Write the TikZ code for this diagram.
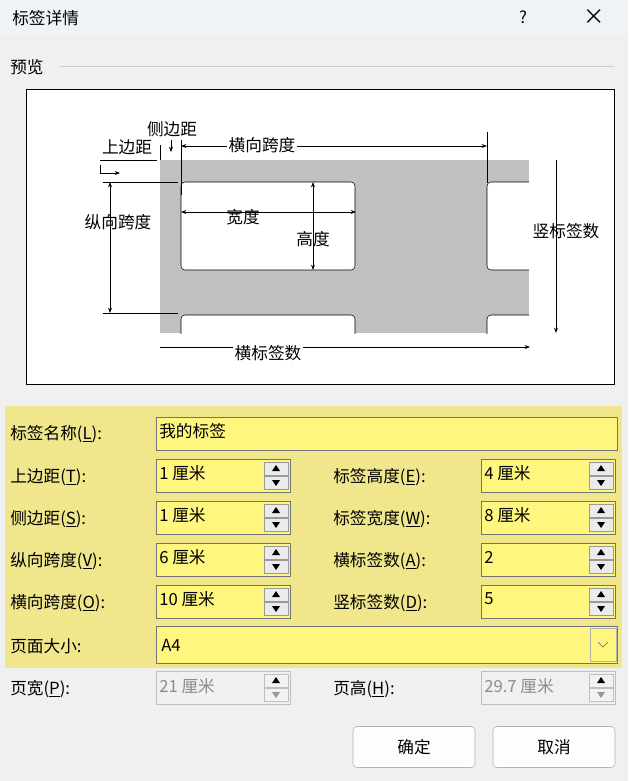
\documentclass[tikz,border=0pt]{standalone}
\usepackage{fontspec}
\setmainfont{Noto Sans CJK SC}
\usetikzlibrary{positioning,arrows.meta}
\definecolor{winbg}{HTML}{F0F0F0}
\definecolor{titlebg}{HTML}{EEF3F6}
\definecolor{panel}{HTML}{F0E68C}
\definecolor{field}{HTML}{FFF680}
\definecolor{sheetgray}{HTML}{C0C0C0}
\definecolor{btn}{HTML}{FDFDFD}
\newcommand{\ul}[1]{\underline{#1}}
\begin{document}
\begin{tikzpicture}[x=0.75pt,y=-0.75pt,
    txt/.style={font=\fontsize{12.5}{12.5}\selectfont, inner sep=0pt},
    lbl/.style={txt, anchor=west},
    fieldbox/.style={draw=black!55, fill=field},
    greybox/.style={draw=black!25, fill=winbg},
    spin/.style={draw=black!40, fill=black!8},
    dim/.style={line width=0.6pt},
    tip/.style={-{Stealth[length=4pt,width=3pt]}, line width=0.6pt},
    both/.style={{Stealth[length=4pt,width=3pt]}-{Stealth[length=4pt,width=3pt]}, line width=0.6pt}
]
\useasboundingbox (0,0) rectangle (628,781);
\fill[winbg] (0,0) rectangle (628,781);
\fill[titlebg] (0,0) rectangle (628,36);
% Title bar
\node[lbl] (title) at (12,18) {标签详情};
\node[txt] (help) at (523,17) {?};
\node[txt, font=\fontsize{16}{16}\selectfont] (close) at (594,17) {×};
\node[lbl] (preview) at (10,67) {预览};
\draw[black!20] (60,66) -- (614,66);
% Preview
\draw[black, fill=white] (26,89) rectangle (614,384);
\fill[sheetgray] (160,160) rectangle (529,333);
\foreach \x/\w in {181/355, 487/540}{
  \foreach \y/\h in {182/270, 315/345}{
    \begin{scope}
      \clip (160,160) rectangle (529,333);
      \draw[fill=white, rounded corners=3pt] (\x,\y) rectangle (\w,\h);
    \end{scope}
  }
}
% Dimension lines
\draw[both] (181,146) -- (487,146);
\draw[tip] (160,347) -- (530,347);
\node[txt] (tm) at (127,147) {上边距};
\node[txt] (sm) at (172,129) {侧边距};
\node[txt, fill=white, inner sep=1pt] (hs) at (262,145) {横向跨度};
\node[txt] (vs) at (118,222) {纵向跨度};
\node[txt] (wd) at (243,217) {宽度};
\node[txt] (ht) at (313,239) {高度};
\node[txt] (vc) at (566,231) {竖标签数};
\node[txt, fill=white, inner sep=1pt] (hc) at (268,353) {横标签数};
\draw[dim] (181,140) -- (181,195) (487,132) -- (487,183);
\draw[tip] (171,140) -- (171,152);
\draw[dim] (160,145) -- (160,160) (100,160) -- (157,160);
\draw[tip] (100,165) -- (100,173) -- (120,173);
\draw[dim] (103,182) -- (178,182) (103,313) -- (178,313);
\draw[both] (110,182) -- (110,313);
\draw[both] (181,212) -- (356,212);
\draw[both] (313,182) -- (313,270);
\draw[tip] (556,160) -- (556,333);
% Form panel
\fill[panel] (5,406) rectangle (622,668);
\node[lbl] (nameL) at (10,434) {标签名称(\ul{L}):};
\draw[fieldbox] (156,417) rectangle (617,450);
\node[lbl] (nameV) at (159,431) {我的标签};
\foreach \i/\la/\va/\lb/\vb in {0/上边距(\ul{T}):/1 厘米/标签高度(\ul{E}):/4 厘米,
    1/侧边距(\ul{S}):/1 厘米/标签宽度(\ul{W}):/8 厘米,
    2/纵向跨度(\ul{V}):/6 厘米/横标签数(\ul{A}):/2,
    3/横向跨度(\ul{O}):/10 厘米/竖标签数(\ul{D}):/5}{
  \pgfmathsetmacro{\yt}{459+42*\i}
  \node[lbl] at (10,\yt+18) {\la};
  \node[lbl] at (333,\yt+18) {\lb};
  \foreach \xa/\v in {156/\va, 481/\vb}{
    \draw[fieldbox] (\xa,\yt) rectangle (\xa+134,\yt+33);
    \node[lbl] at (\xa+3,\yt+14) {\v};
    \draw[spin] (\xa+108,\yt+3) rectangle (\xa+132,\yt+16);
    \draw[spin] (\xa+108,\yt+17) rectangle (\xa+132,\yt+30);
    \fill (\xa+120,\yt+6) -- (\xa+116,\yt+12) -- (\xa+124,\yt+12) -- cycle;
    \fill (\xa+120,\yt+27) -- (\xa+116,\yt+21) -- (\xa+124,\yt+21) -- cycle;
  }
}
\node[lbl] (sizeL) at (10,646) {页面大小:};
\draw[fieldbox] (156,626) rectangle (617,663);
\node[lbl] (sizeV) at (161,645) {A4};
\draw[black!30] (590,628) rectangle (616,661);
\draw[black!60] (598,642) -- (603,647) -- (608,642);
% Disabled row
\node[lbl] (pwL) at (10,689) {页宽(\ul{P}):};
\node[lbl] (phL) at (333,689) {页高(\ul{H}):};
\foreach \xa/\v in {156/21 厘米, 481/29.7 厘米}{
  \draw[greybox] (\xa,671) rectangle (\xa+134,704);
  \node[lbl, text=black!45] at (\xa+3,686) {\v};
  \draw[draw=black!25, fill=black!5] (\xa+108,674) rectangle (\xa+132,687);
  \draw[draw=black!25, fill=black!5] (\xa+108,688) rectangle (\xa+132,701);
  \fill (\xa+120,677) -- (\xa+116,683) -- (\xa+124,683) -- cycle;
  \fill[black!40] (\xa+120,698) -- (\xa+116,692) -- (\xa+124,692) -- cycle;
}
% Buttons
\node[draw=black!30, fill=btn, rounded corners=3pt, minimum width=91.5pt, minimum height=30.75pt, txt] (ok) at (414,747) {确定};
\node[draw=black!30, fill=btn, rounded corners=3pt, minimum width=91.5pt, minimum height=30.75pt, txt] (cancel) at (554,747) {取消};
\end{tikzpicture}
\end{document}
